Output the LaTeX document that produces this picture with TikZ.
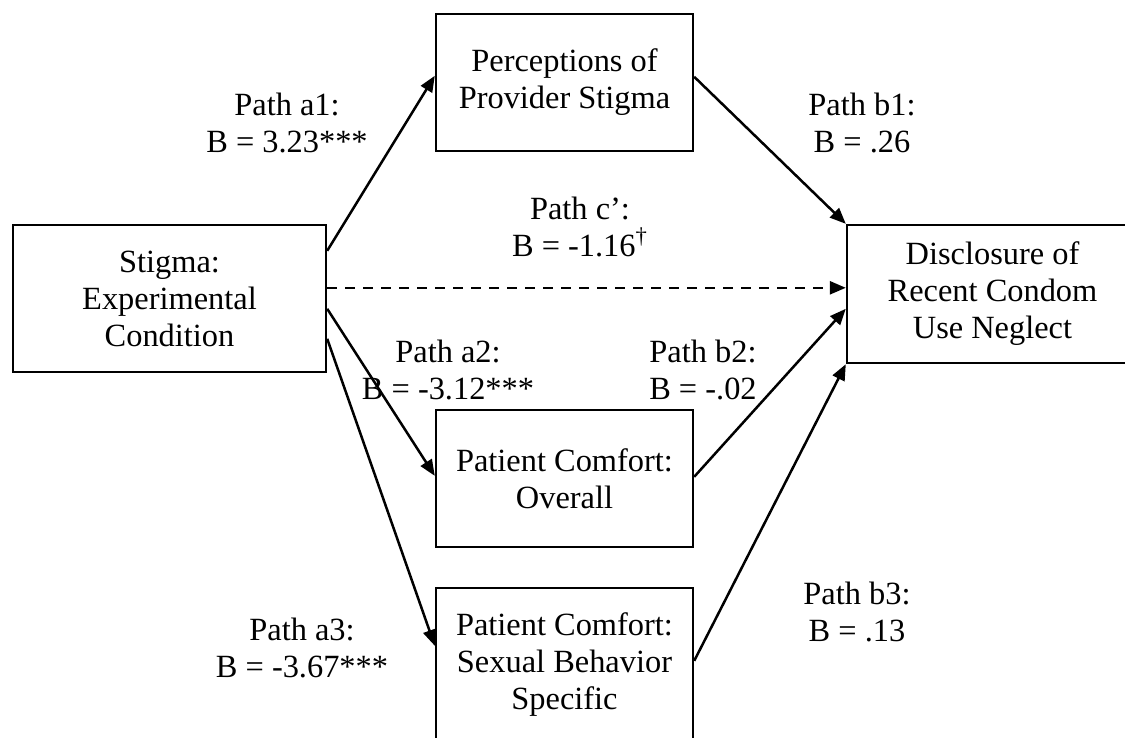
\documentclass[tikz,border=0pt]{standalone}
\usepackage{fontspec}
\setmainfont{Liberation Serif}
\usetikzlibrary{arrows.meta,calc}
\begin{document}
\begin{tikzpicture}[x=0.5pt,y=-0.5pt,
  font=\fontsize{16.2pt}{18.5pt}\selectfont,
  box/.style={draw,line width=1.2pt,align=center,inner sep=0pt},
  lab/.style={align=center,inner sep=0pt},
  arr/.style={line width=1.25pt,-{Triangle[length=8pt,width=6.5pt]}}]
\clip (0,0) rectangle (1125,738);
\fill[white] (0,0) rectangle (1125,738);
% boxes
\node[box,minimum width=156.5pt,minimum height=73.5pt] (stig) at (169.5,298.5) {Stigma:\\Experimental\\Condition};
\node[box,minimum width=128.5pt,minimum height=68.5pt] (perc) at (564.5,82.5) {Perceptions of\\Provider Stigma};
\node[box,minimum width=128.5pt,minimum height=68.5pt] (over) at (564.5,478.5) {Patient Comfort:\\Overall};
\node[box,minimum width=128.5pt,minimum height=76.5pt] (sex) at (564.5,664.5) {Patient Comfort:\\Sexual Behavior\\Specific};
\node[box,minimum width=145.5pt,minimum height=69pt] (disc) at (992.5,294) {Disclosure of\\Recent Condom\\Use Neglect};
% connectors
\draw[arr] ($(stig.north east)+(0,27)$) -- ($(perc.north west)+(0,63)$);
\draw[arr] ($(perc.north east)+(0,64)$) -- (disc.north west);
\draw[arr,dash pattern=on 5pt off 4pt] ($(stig.north east)+(0,64)$) -- ($(disc.north west)+(0,64)$);
\draw[arr] ($(stig.north east)+(0,85)$) -- ($(over.north west)+(0,67)$);
\draw[arr] ($(stig.north east)+(0,115)$) -- ($(sex.north west)+(0,59)$);
\draw[arr] ($(over.north east)+(0,68)$) -- ($(disc.north west)+(0,85)$);
\draw[arr] ($(sex.north east)+(0,74)$) -- (disc.south west);
% labels
\node[lab] (la1) at (287,122.5) {Path a1:\\B = 3.23***};
\node[lab] (lb1) at (862,122.5) {Path b1:\\B = .26};
\node[lab] (lc) at (580,227) {Path c’:\\B = -1.16\textsuperscript{†}};
\node[lab] (la2) at (448,370) {Path a2:\\B = -3.12***};
\node[lab] (lb2) at (703,370) {Path b2:\\B = -.02};
\node[lab] (la3) at (302,648) {Path a3:\\B = -3.67***};
\node[lab] (lb3) at (857,612) {Path b3:\\B = .13};
\end{tikzpicture}
\end{document}
